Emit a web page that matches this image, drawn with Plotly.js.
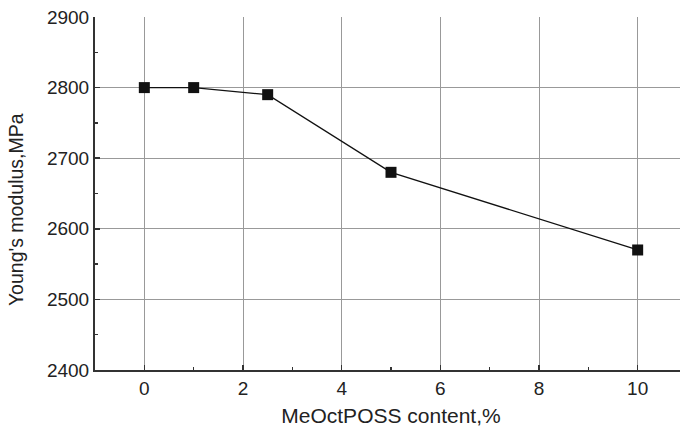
<!DOCTYPE html>
<html>
<head>
<meta charset="utf-8">
<script src="https://cdn.plot.ly/plotly-3.0.1.min.js"></script>
<style>
  html, body { margin: 0; padding: 0; overflow: hidden; background: #fff; }
  #chart { width: 700px; height: 433px; }
</style>
</head>
<body>
<div id="chart"></div>
<script>
// Young's modulus vs MeOctPOSS loading
const possContent = [0, 1, 2.5, 5, 10];          // wt %
const youngsModulus = [2800, 2800, 2790, 2680, 2570]; // MPa

const xTickVals = [0, 2, 4, 6, 8, 10];
const yTickVals = [2400, 2500, 2600, 2700, 2800, 2900];

const xTitle = 'MeOctPOSS content,%';
const yTitle = "Young's modulus,MPa";

const fontFamily = 'Liberation Sans, Arial, sans-serif';

const trace = {
  x: possContent,
  y: youngsModulus,
  mode: 'lines+markers',
  type: 'scatter',
  line: { color: '#111', width: 1.3 },
  marker: { symbol: 'square', size: 11, color: '#111' },
  hoverinfo: 'x+y'
};

const layout = {
  width: 700,
  height: 433,
  margin: { l: 95, r: 13, t: 17, b: 63 },
  paper_bgcolor: '#fff',
  plot_bgcolor: '#fff',
  showlegend: false,
  font: { family: fontFamily, size: 19, color: '#222' },
  xaxis: {
    range: [-1, 11],
    tickvals: xTickVals,
    ticks: 'inside',
    ticklen: 5,
    tickwidth: 1.5,
    tickcolor: '#333',
    showline: true,
    linecolor: '#333',
    linewidth: 2,
    showgrid: true,
    gridcolor: '#999',
    gridwidth: 1,
    zeroline: false,
    minor: { dtick: 1, tick0: 1, ticks: 'inside', ticklen: 3, tickcolor: '#333', showgrid: false },
    tickfont: { size: 19, color: '#222' },
    title: { text: xTitle, font: { size: 21, color: '#222' }, standoff: 11 }
  },
  yaxis: {
    range: [2400, 2900],
    tickvals: yTickVals,
    ticks: 'inside',
    ticklen: 5,
    tickwidth: 1.5,
    tickcolor: '#333',
    showline: true,
    linecolor: '#333',
    linewidth: 2,
    showgrid: true,
    gridcolor: '#999',
    gridwidth: 1,
    zeroline: false,
    minor: { dtick: 50, tick0: 2450, ticks: 'inside', ticklen: 3, tickcolor: '#333', showgrid: false },
    tickfont: { size: 19, color: '#222' }
  },
  // vertical axis title, set slightly below the plot's mid-height
  annotations: [{
    text: yTitle,
    xref: 'paper', yref: 'paper',
    x: -0.1334, y: 0.453,
    xanchor: 'center', yanchor: 'middle',
    textangle: -90,
    showarrow: false,
    font: { size: 19.5, color: '#222' }
  }]
};

Plotly.newPlot('chart', [trace], layout, { displayModeBar: false, staticPlot: true });
</script>
</body>
</html>
